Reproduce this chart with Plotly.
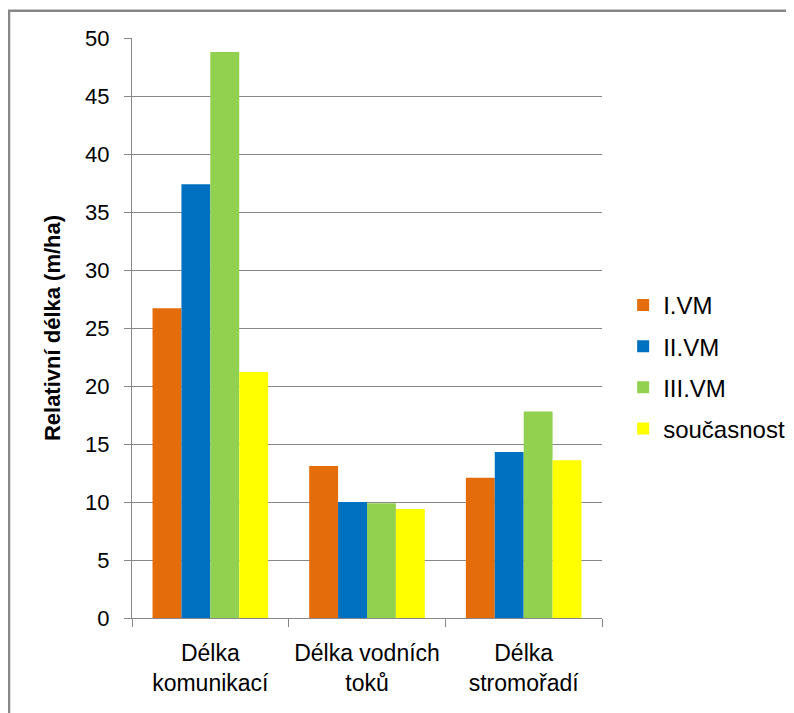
import plotly.graph_objects as go

categories = ["Délka<br>komunikací", "Délka vodních<br>toků", "Délka<br>stromořadí"]
series_names = ["I.VM", "II.VM", "III.VM", "současnost"]
vals_I = [26.7, 13.1, 12.1]
vals_II = [37.4, 10.0, 14.3]
vals_III = [48.8, 9.9, 17.8]
vals_now = [21.2, 9.4, 13.6]
colors = ["#E46C0A", "#0070C0", "#92D050", "#FFFF00"]
y_ticks = [0, 5, 10, 15, 20, 25, 30, 35, 40, 45, 50]

FONT = "Liberation Sans, Arial, sans-serif"
GRAY = "#878787"

fig = go.Figure()
for i, (name, vals) in enumerate(zip(series_names, [vals_I, vals_II, vals_III, vals_now])):
    fig.add_trace(go.Bar(
        x=categories, y=vals, name=name, legendgroup=name,
        marker=dict(color=colors[i], line=dict(width=0)),
    ))

fig.update_layout(
    width=786, height=705,
    margin=dict(l=124, r=192, t=30, b=95, autoexpand=False),
    paper_bgcolor="white", plot_bgcolor="white",
    barmode="group", bargap=0.262, bargroupgap=0,
    font=dict(family=FONT, color="black"),
    showlegend=True,
    legend=dict(x=1.045, y=0.433, xanchor="left", yanchor="middle",
                font=dict(size=24, family=FONT, color="black"),
                tracegroupgap=7, bgcolor="rgba(0,0,0,0)"),
    xaxis=dict(
        showline=True, linecolor=GRAY, linewidth=1,
        ticks="outside", tickson="boundaries", ticklen=8, tickcolor=GRAY,
        tickfont=dict(size=23, family=FONT, color="black"),
        tickangle=0, automargin=False,
        showgrid=False, ticklabelstandoff=14,
    ),
    yaxis=dict(
        range=[0, 50], tickvals=y_ticks,
        showline=True, linecolor=GRAY, linewidth=1,
        ticks="outside", ticklen=7, tickcolor=GRAY,
        tickfont=dict(size=22, family=FONT, color="black"),
        showgrid=True, gridcolor=GRAY, gridwidth=1,
        zeroline=False, ticklabelstandoff=10, automargin=False,
    ),
    annotations=[dict(
        text="<b>Relativní délka (m/ha)</b>", textangle=-90,
        x=-0.170, y=0.5, xref="paper", yref="paper",
        xanchor="center", yanchor="middle", showarrow=False,
        font=dict(size=22, family=FONT, color="black"),
    )],
    shapes=[dict(
        type="rect", xref="paper", yref="paper",
        x0=-0.2617, x1=2, y0=-1, y1=1.047,
        line=dict(color=GRAY, width=2.5), fillcolor="rgba(0,0,0,0)", layer="below",
    )],
)

fig.write_html("out.html")
